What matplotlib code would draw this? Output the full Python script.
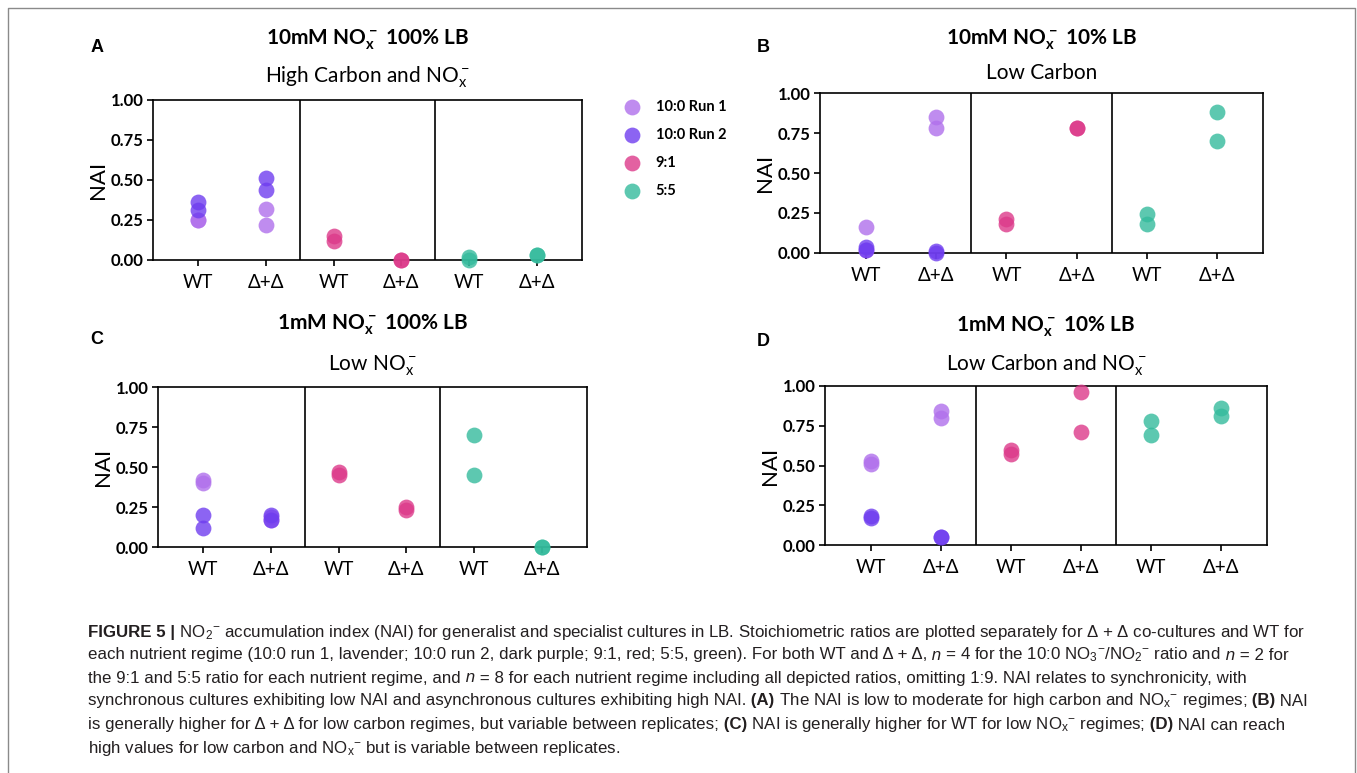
import matplotlib
matplotlib.use("Agg")
import matplotlib.pyplot as plt
from matplotlib.lines import Line2D
import numpy as np

# === DATA ===
groups = ["WT", "Δ+Δ", "WT", "Δ+Δ", "WT", "Δ+Δ"]
series_names = ["10:0 Run 1", "10:0 Run 2", "9:1", "5:5"]
series_colors = ["#b070ec", "#6f3def", "#dc3a8a", "#34bb9c"]

letters = ["A", "B", "C", "D"]
main_titles = [r"10mM NO$_x^-$ 100% LB", r"10mM NO$_x^-$ 10% LB",
               r"1mM NO$_x^-$ 100% LB", r"1mM NO$_x^-$ 10% LB"]
sub_titles = [r"High Carbon and NO$_x^-$", "Low Carbon",
              r"Low NO$_x^-$", r"Low Carbon and NO$_x^-$"]

# each list: [WT values, Δ+Δ values]
A_run1 = [[0.25, 0.25], [0.32, 0.22]]
A_run2 = [[0.36, 0.31], [0.51, 0.44]]
A_91 = [[0.15, 0.12], [0.00, 0.00]]
A_55 = [[0.02, 0.00], [0.03, 0.03]]

B_run1 = [[0.16, 0.02], [0.85, 0.78]]
B_run2 = [[0.04, 0.02], [0.01, 0.00]]
B_91 = [[0.21, 0.18], [0.78, 0.78]]
B_55 = [[0.245, 0.18], [0.88, 0.70]]

C_run1 = [[0.42, 0.40], [0.19, 0.17]]
C_run2 = [[0.20, 0.12], [0.20, 0.17]]
C_91 = [[0.47, 0.45], [0.25, 0.23]]
C_55 = [[0.70, 0.45], [0.00, 0.00]]

D_run1 = [[0.53, 0.51], [0.84, 0.80]]
D_run2 = [[0.18, 0.17], [0.05, 0.05]]
D_91 = [[0.60, 0.57], [0.96, 0.71]]
D_55 = [[0.78, 0.69], [0.86, 0.81]]

yticks = [0.0, 0.25, 0.5, 0.75, 1.0]

# caption lines: (text, style) with r=regular, b=bold, i=italic
caption = [
    [("FIGURE 5 |", "b"), (" NO$_2{}^{-}$ accumulation index (NAI) for generalist and specialist cultures in LB. "
                            "Stoichiometric ratios are plotted separately for Δ + Δ co-cultures and WT for", "r")],
    [("each nutrient regime (10:0 run 1, lavender; 10:0 run 2, dark purple; 9:1, red; 5:5, green). "
      "For both WT and Δ + Δ,", "r"), (" n", "i"), (" = 4 for the 10:0 NO$_3{}^{-}$/NO$_2{}^{-}$ ratio and", "r"),
     (" n", "i"), (" = 2 for", "r")],
    [("the 9:1 and 5:5 ratio for each nutrient regime, and", "r"), (" n", "i"),
     (" = 8 for each nutrient regime including all depicted ratios, omitting 1:9. NAI relates to synchronicity, with", "r")],
    [("synchronous cultures exhibiting low NAI and asynchronous cultures exhibiting high NAI.", "r"), (" (A)", "b"),
     (" The NAI is low to moderate for high carbon and NO$_x{}^{-}$ regimes;", "r"), (" (B)", "b"), (" NAI", "r")],
    [("is generally higher for Δ + Δ for low carbon regimes, but variable between replicates;", "r"), (" (C)", "b"),
     (" NAI is generally higher for WT for low NO$_x{}^{-}$ regimes;", "r"), (" (D)", "b"), (" NAI can reach", "r")],
    [("high values for low carbon and NO$_x{}^{-}$ but is variable between replicates.", "r")],
]

W, H = 1357, 773

plt.rcParams['font.family'] = ['Lato', 'DejaVu Sans']
plt.rcParams['mathtext.default'] = 'regular'

fig = plt.figure(figsize=(W / 100, H / 100), dpi=100)


def px_rect(left, top, right, bottom):
    return [left / W, 1 - bottom / H, (right - left) / W, (bottom - top) / H]


# axes boxes in pixels: left, top, right, bottom
boxes = [(153, 100, 582, 260), (820, 93, 1263, 253),
         (158, 387, 587, 547), (825, 386, 1267, 545)]
letter_pos = [(97, 47), (763, 47), (97, 339), (763, 341)]
title_y = [(40, 77), (40, 73), (325, 366), (327, 365)]

panel_data = [(A_run1, A_run2, A_91, A_55), (B_run1, B_run2, B_91, B_55),
              (C_run1, C_run2, C_91, C_55), (D_run1, D_run2, D_91, D_55)]

handles = []
for p, (box, data) in enumerate(zip(boxes, panel_data)):
    ax = fig.add_axes(px_rect(*box))
    xs = np.arange(len(groups))
    for s, vals in enumerate(data):
        base = 0 if s < 2 else 2 * (s - 1)
        for g in range(2):
            h = ax.scatter([xs[base + g]] * len(vals[g]), vals[g], s=130,
                           color=series_colors[s], alpha=0.8, linewidths=0,
                           clip_on=False, zorder=3, label=series_names[s])
        if p == 0:
            handles.append(h)

    ax.axvline(1.5, color="k", lw=1.2)
    ax.axvline(3.5, color="k", lw=1.2)
    ax.set_xlim(-0.66, 5.66)
    ax.set_ylim(0, 1)
    ax.set_xticks(xs)
    ax.set_xticklabels(groups, fontsize=13.5)
    ax.set_yticks(yticks)
    ax.set_yticklabels([f"{v:.2f}" for v in yticks], fontsize=12, fontweight="bold")
    ax.tick_params(length=4, width=1.2, pad=3)
    ax.tick_params(axis="x", pad=6)
    for sp in ax.spines.values():
        sp.set_linewidth(1.2)
    ax.set_ylabel("NAI", fontsize=16, labelpad=2)

    cx = (box[0] + box[2]) / 2 / W
    fig.text(cx, 1 - title_y[p][0] / H, main_titles[p], fontsize=15, fontweight="bold",
             ha="center", va="center")
    fig.text(cx, 1 - title_y[p][1] / H, sub_titles[p], fontsize=15,
             ha="center", va="center")
    fig.text(letter_pos[p][0] / W, 1 - letter_pos[p][1] / H, letters[p], fontsize=13,
             fontweight="bold", family=["Liberation Sans", "DejaVu Sans"],
             ha="center", va="center")

fig.legend(handles=handles, labels=series_names, loc="upper left",
           bbox_to_anchor=(612 / W, 1 - 94 / H), frameon=False,
           prop={"weight": "bold", "size": 10.5}, labelspacing=0.97,
           handletextpad=0.6, borderaxespad=0, scatterpoints=1)

# outer grey frame (left, top, right)
fig.add_artist(Line2D([8 / W, 8 / W, 1355 / W, 1355 / W], [0, 1 - 8 / H, 1 - 8 / H, 0],
                      transform=fig.transFigure, color="#8a8a8a", lw=1))

# caption, drawn piece by piece
renderer = fig.canvas.get_renderer()
cap_font = ["Liberation Sans", "DejaVu Sans"]
line_y = [632, 655, 678, 701, 725, 748]
for line, yy in zip(caption, line_y):
    x = 88 / W
    for text, style in line:
        t = fig.text(x, 1 - yy / H, text, fontsize=12.2, family=cap_font, va="center",
                     ha="left", color="#231f20",
                     fontweight="bold" if style == "b" else "normal",
                     fontstyle="italic" if style == "i" else "normal")
        bb = t.get_window_extent(renderer)
        x += bb.width / W

fig.savefig("out.png", dpi=100)
